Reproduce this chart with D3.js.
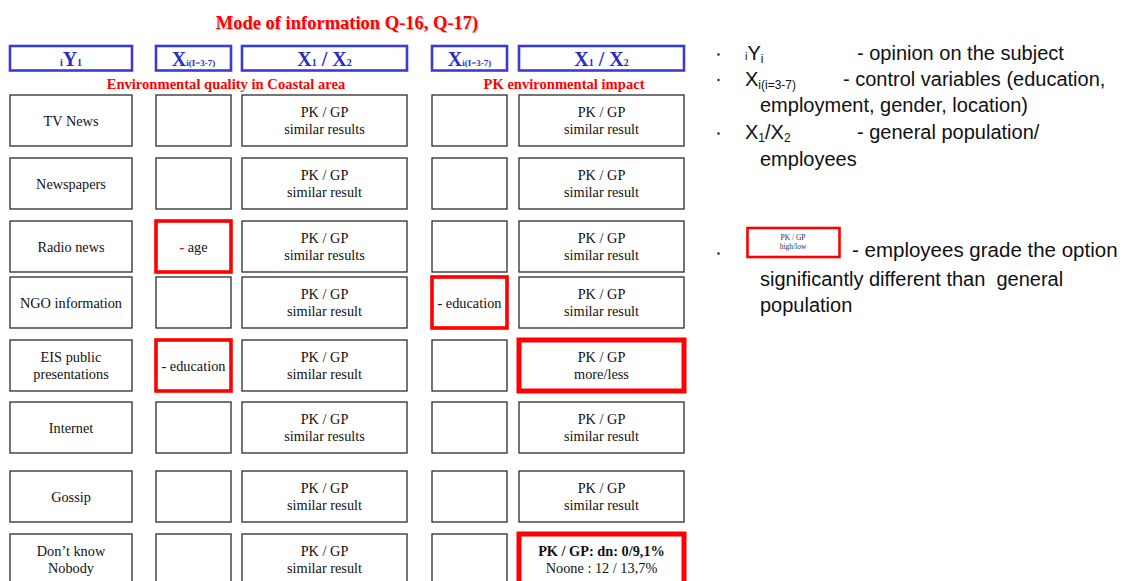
<!DOCTYPE html>
<html>
<head>
<meta charset="utf-8">
<script src="https://cdn.jsdelivr.net/npm/d3@7"></script>
<style>
  html, body { margin: 0; padding: 0; background: #fff; }
  svg { display: block; }
  text { white-space: pre; }
</style>
</head>
<body>
<svg id="chart" width="1131" height="581"></svg>
<script>
// ---------------- DATA ----------------
const title = "Mode of information Q-16, Q-17)";
const groupTitles = ["Environmental quality in Coastal area", "PK environmental impact"];
const columns = ["Y", "coastalControl", "coastalCompare", "impactControl", "impactCompare"];
const categories = ["TV News", "Newspapers", "Radio news", "NGO information",
  "EIS public\npresentations", "Internet", "Gossip", "Don’t know\nNobody"];
const coastalControl = ["", "", "- age", "", "- education", "", "", ""];
const coastalControlSignificant = [false, false, true, false, true, false, false, false];
const coastalCompare = ["PK / GP\nsimilar results", "PK / GP\nsimilar result", "PK / GP\nsimilar results",
  "PK / GP\nsimilar result", "PK / GP\nsimilar result", "PK / GP\nsimilar results",
  "PK / GP\nsimilar result", "PK / GP\nsimilar result"];
const impactControl = ["", "", "", "- education", "", "", "", ""];
const impactControlSignificant = [false, false, false, true, false, false, false, false];
const impactCompare = ["PK / GP\nsimilar result", "PK / GP\nsimilar result", "PK / GP\nsimilar result",
  "PK / GP\nsimilar result", "PK / GP\nmore/less", "PK / GP\nsimilar result",
  "PK / GP\nsimilar result", "PK / GP: dn: 0/9,1%\nNoone : 12 / 13,7%"];
const impactCompareSignificant = [false, false, false, false, true, false, false, true];
const legendItems = [
  { key: "Y", text: ["- opinion on the subject"] },
  { key: "X", text: ["- control variables (education,", "employment, gender, location)"] },
  { key: "X1X2", text: ["- general population/", "employees"] }
];
const legendBoxText = ["PK / GP", "high/low"];
const legendBoxNote = ["- employees grade the option", "significantly different than  general", "population"];

// ---------------- LAYOUT ----------------
const colLeft = [10, 156, 242, 432, 519];
const colRight = [132, 231, 407, 507, 684];
const rowTops = [95, 158, 221, 277, 340, 402, 471, 534];
const rowH = 51;

const xL = d3.scaleOrdinal().domain(columns).range(colLeft);
const xR = d3.scaleOrdinal().domain(columns).range(colRight);
const yRow = d3.scaleOrdinal().domain(categories).range(rowTops);

const RED = "#ff0000";
const BLUE_TXT = "#2a2ac4";
const BLUE_BOX = "#3b3bd2";
const SERIF = "'Liberation Serif', 'Times New Roman', serif";
const SANS = "'Liberation Sans', Arial, sans-serif";

const svg = d3.select("#chart");

// Title (with light shadow)
[["#c8c8c8", 1.2], [RED, 0]].forEach(([c, o]) => {
  svg.append("text").attr("x", 347 + o).attr("y", 29 + o)
    .attr("text-anchor", "middle").attr("font-family", SERIF)
    .attr("font-weight", "bold").attr("font-size", 18.5).attr("fill", c).text(title);
});

// Header boxes
const headerG = svg.append("g");
columns.forEach(col => {
  headerG.append("rect")
    .attr("x", xL(col)).attr("y", 46)
    .attr("width", xR(col) - xL(col)).attr("height", 24.5)
    .attr("fill", "none").attr("stroke", BLUE_BOX).attr("stroke-width", 2.6);
});
function headerText(col, parts) {
  const t = headerG.append("text")
    .attr("x", (xL(col) + xR(col)) / 2).attr("y", 66)
    .attr("text-anchor", "middle").attr("font-family", SERIF)
    .attr("font-weight", "bold").attr("fill", BLUE_TXT);
  parts.forEach(p => {
    t.append("tspan").attr("font-size", p[1]).text(p[0]);
  });
}
headerText("Y", [["i", 10], ["Y", 20], ["1", 10]]);
headerText("coastalControl", [["X", 20], ["i(I=3-7)", 9]]);
headerText("coastalCompare", [["X", 20], ["1", 10], [" / X", 20], ["2", 10]]);
headerText("impactControl", [["X", 20], ["i(I=3-7)", 9]]);
headerText("impactCompare", [["X", 20], ["1", 10], [" / X", 20], ["2", 10]]);

// Group titles
svg.append("text").attr("x", 226).attr("y", 89).attr("text-anchor", "middle")
  .attr("font-family", SERIF).attr("font-weight", "bold").attr("font-size", 14.6)
  .attr("fill", RED).text(groupTitles[0]);
svg.append("text").attr("x", 564).attr("y", 89).attr("text-anchor", "middle")
  .attr("font-family", SERIF).attr("font-weight", "bold").attr("font-size", 14.6)
  .attr("fill", RED).text(groupTitles[1]);

// Cells
const cellData = [];
categories.forEach((cat, i) => {
  cellData.push({ col: "Y", cat, text: cat, sig: 0 });
  cellData.push({ col: "coastalControl", cat, text: coastalControl[i], sig: coastalControlSignificant[i] ? 1 : 0 });
  cellData.push({ col: "coastalCompare", cat, text: coastalCompare[i], sig: 0 });
  cellData.push({ col: "impactControl", cat, text: impactControl[i], sig: impactControlSignificant[i] ? 1 : 0 });
  cellData.push({ col: "impactCompare", cat, text: impactCompare[i], sig: impactCompareSignificant[i] ? 2 : 0, boldFirst: i === categories.length - 1 });
});

const cells = svg.append("g").selectAll("g.cell").data(cellData).join("g").attr("class", "cell");

cells.append("rect")
  .attr("x", d => xL(d.col)).attr("y", d => yRow(d.cat))
  .attr("width", d => xR(d.col) - xL(d.col)).attr("height", rowH)
  .attr("fill", "#fff")
  .attr("stroke", d => d.sig ? RED : "#2b2b2b")
  .attr("stroke-width", d => d.sig === 2 ? 5 : d.sig === 1 ? 3.6 : 1.3);

cells.each(function (d) {
  if (!d.text) return;
  const lines = d.text.split("\n");
  const cx = (xL(d.col) + xR(d.col)) / 2;
  const cy = yRow(d.cat) + rowH / 2;
  const lh = 17.5;
  const y0 = cy - (lines.length - 1) * lh / 2 + 5;
  const g = d3.select(this);
  lines.forEach((ln, k) => {
    const t = g.append("text").attr("x", cx).attr("y", y0 + k * lh)
      .attr("text-anchor", "middle").attr("font-family", SERIF)
      .attr("font-size", 14.3).attr("fill", "#111")
      .attr("font-weight", d.boldFirst && k === 0 ? "bold" : "normal");
    if (ln === "- age") {
      t.append("tspan").attr("fill", RED).text("-");
      t.append("tspan").text(" age");
    } else {
      t.text(ln);
    }
  });
});

// ---------------- LEGEND ----------------
const lg = svg.append("g").attr("font-family", SANS).attr("fill", "#111");
const bulletX = 717;
const lineBase = [60, 85.5, 112, 139, 166];
function bullet(y) {
  lg.append("circle").attr("cx", bulletX + 1.5).attr("cy", y - 5.5).attr("r", 1.2).attr("fill", "#222");
}
// item 1
bullet(lineBase[0]);
{
  const t = lg.append("text").attr("x", 745).attr("y", lineBase[0]).attr("font-size", 20);
  t.append("tspan").attr("font-size", 11).text("i");
  t.append("tspan").text("Y");
  t.append("tspan").attr("font-size", 12).attr("dy", 3).text("i");
  lg.append("text").attr("x", 857).attr("y", lineBase[0]).attr("font-size", 20).text(legendItems[0].text[0]);
}
// item 2
bullet(lineBase[1]);
{
  const t = lg.append("text").attr("x", 745).attr("y", lineBase[1]).attr("font-size", 20);
  t.append("tspan").text("X");
  t.append("tspan").attr("font-size", 12).attr("dy", 3).text("i(i=3-7)");
  lg.append("text").attr("x", 843).attr("y", lineBase[1]).attr("font-size", 20).text(legendItems[1].text[0]);
  lg.append("text").attr("x", 760).attr("y", lineBase[2]).attr("font-size", 20).text(legendItems[1].text[1]);
}
// item 3
bullet(lineBase[3]);
{
  const t = lg.append("text").attr("x", 745).attr("y", lineBase[3]).attr("font-size", 20);
  t.append("tspan").text("X");
  t.append("tspan").attr("font-size", 12).attr("dy", 3).text("1");
  t.append("tspan").attr("dy", -3).text("/X");
  t.append("tspan").attr("font-size", 12).attr("dy", 3).text("2");
  lg.append("text").attr("x", 857).attr("y", lineBase[3]).attr("font-size", 20).text(legendItems[2].text[0]);
  lg.append("text").attr("x", 760).attr("y", lineBase[4]).attr("font-size", 20).text(legendItems[2].text[1]);
}
// item 4: sample box
bullet(259);
lg.append("rect").attr("x", 747.5).attr("y", 228).attr("width", 92).attr("height", 29)
  .attr("fill", "#fff").attr("stroke", RED).attr("stroke-width", 2.6);
legendBoxText.forEach((s, k) => {
  lg.append("text").attr("x", 793).attr("y", 240 + k * 9).attr("text-anchor", "middle")
    .attr("font-family", SERIF).attr("font-size", 7.5).attr("fill", "#333").text(s);
});
lg.append("text").attr("x", 852).attr("y", 257).attr("font-size", 20.5).text(legendBoxNote[0]);
lg.append("text").attr("x", 760).attr("y", 286).attr("font-size", 20).text(legendBoxNote[1]);
lg.append("text").attr("x", 760).attr("y", 312).attr("font-size", 20).text(legendBoxNote[2]);
</script>
</body>
</html>
